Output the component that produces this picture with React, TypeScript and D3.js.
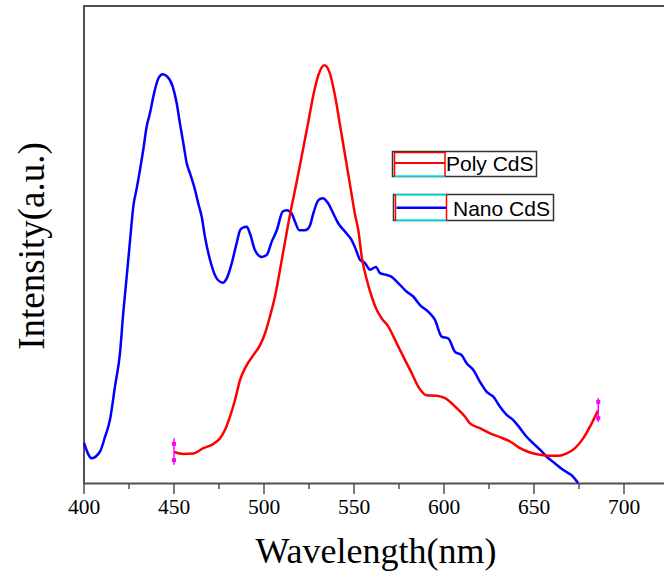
import React from "react";
import * as d3 from "d3";

const nanoWl = [400, 404.3, 408.9, 411.7, 414.4, 417.2, 420, 421.8, 423.7, 425.6, 427.4, 429.3, 431.1, 432.9, 434.8, 436.7, 438.5, 441.3, 443.7, 446.3, 449.3, 451.5, 453.3, 455.2, 457.1, 458.9, 461.7, 463.5, 465.4, 467.2, 470, 473.7, 477.1, 479.3, 482.1, 484.8, 486.7, 488, 490.4, 492.2, 495, 498.7, 501.5, 504.3, 507.1, 510.4, 512.6, 515.4, 517.2, 519.6, 522.8, 525.2, 527.4, 530.2, 532.6, 535.7, 538.5, 541.3, 545, 548.7, 551.5, 553.3, 556.1, 558.9, 562.2, 564.4, 568.2, 570.9, 574.6, 579.3, 582.9, 586.7, 591.3, 595, 598.7, 602.4, 606.1, 609.8, 612.6, 616.3, 620, 623.7, 627.4, 631.1, 634.8, 638.5, 642.2, 645.9, 649.6, 653.3, 657.1, 661.7, 666.3, 671.8, 674.5];
const nanoI = [8.4, 5.2, 6.6, 9.7, 13.2, 20.2, 27.3, 35.6, 43.2, 50.9, 58.0, 61.8, 65.6, 69.8, 74.7, 77.6, 81.0, 84.8, 85.7, 85.2, 83.1, 79.6, 75.4, 71.2, 67.0, 64.9, 61.4, 58.6, 55.8, 51.6, 46.8, 42.9, 42.0, 42.9, 46.1, 50.3, 53.0, 53.5, 53.7, 52.3, 48.8, 47.4, 47.8, 50.6, 53.0, 56.9, 57.2, 56.5, 54.8, 53.0, 53.0, 53.7, 56.5, 59.3, 59.7, 58.6, 56.5, 54.4, 52.7, 50.9, 48.5, 46.8, 46.1, 44.7, 45.3, 44.0, 43.6, 43.2, 41.9, 40.1, 39.1, 37.3, 35.9, 34.2, 30.7, 30.3, 27.5, 26.8, 25.1, 23.7, 21.2, 19.1, 18.1, 16.0, 14.3, 13.2, 11.5, 9.7, 8.3, 7.0, 5.5, 4.1, 2.7, 1.3, 0.0];

const polyWl = [450, 455.2, 460.7, 466.3, 470.9, 475.6, 478.3, 481.1, 483.9, 486.7, 490.4, 494.1, 497.8, 500.6, 503.3, 506.1, 507.9, 510.7, 514.4, 518.2, 521.8, 524.6, 527.4, 530.2, 533.5, 536.3, 539.4, 542.2, 545, 547.8, 550.6, 552.4, 554.3, 557.1, 559.8, 562.6, 565.4, 569.1, 572.8, 577.4, 582.1, 585.7, 590.4, 595.9, 600.6, 607.1, 611.7, 614.4, 620, 625.6, 631.1, 636.7, 642.2, 647.8, 653.3, 658.9, 663.5, 668.2, 672.8, 677.4, 681.1, 685.5];
const polyI = [6.5, 6.1, 6.2, 7.3, 8.0, 9.4, 11.1, 13.9, 17.4, 21.6, 24.7, 26.8, 28.9, 31.4, 34.9, 39.1, 42.6, 48.5, 56.2, 63.2, 70.2, 75.7, 81.3, 85.5, 87.6, 86.2, 81.3, 75.1, 68.8, 62.5, 56.2, 53.0, 47.4, 42.6, 39.1, 36.3, 34.5, 32.8, 30.0, 26.5, 23.0, 20.2, 18.4, 18.3, 17.8, 15.7, 13.9, 12.5, 11.5, 10.4, 9.6, 8.7, 7.3, 6.4, 5.9, 5.7, 5.7, 6.2, 7.3, 9.4, 11.8, 15.2];

// error-bar style markers at the end points of the Poly CdS curve
const markerWl = [450, 685.7];
const markerLo = [3.8, 12.8];
const markerCapLo = [4.8, 13.6];
const markerCapHi = [8.2, 17.0];
const markerHi = [9.4, 17.8];

const xTicks = [400, 450, 500, 550, 600, 650, 700];
const xMinorTicks = [425, 475, 525, 575, 625, 675, 725];

const legendLabels = ["Poly CdS", "Nano CdS"];

const W = 664;
const H = 575;

export default function App() {
  const x = d3.scaleLinear().domain([400, 700]).range([84, 624]);
  const y = d3.scaleLinear().domain([0, 100]).range([483, 6]);

  const line = d3
    .line<[number, number]>()
    .x((d) => x(d[0]))
    .y((d) => y(d[1]))
    .curve(d3.curveMonotoneX);

  const nano = nanoWl.map((w, i) => [w, nanoI[i]] as [number, number]);
  const poly = polyWl.map((w, i) => [w, polyI[i]] as [number, number]);

  const serif = "'Liberation Serif', 'Times New Roman', serif";
  const sans = "'Liberation Sans', Arial, sans-serif";
  const frame = "#505050";

  return (
    <svg
      width={W}
      height={H}
      style={{ position: "absolute", left: 0, top: 0, background: "#fff" }}
    >
      <rect x={0} y={0} width={W} height={H} fill="#fff" />
      {/* frame */}
      <line x1={84} x2={84} y1={5} y2={484} stroke={frame} strokeWidth={2} />
      <line x1={83} x2={W} y1={6} y2={6} stroke={frame} strokeWidth={2} />
      <line x1={83} x2={W} y1={483.5} y2={483.5} stroke={frame} strokeWidth={2} />

      {/* ticks */}
      {xTicks.map((t) => (
        <g key={"t" + t}>
          <line x1={x(t)} x2={x(t)} y1={483} y2={494} stroke={frame} strokeWidth={1.5} />
          <text
            x={x(t)}
            y={514}
            textAnchor="middle"
            fontFamily={serif}
            fontSize={21.5}
            fill="#000"
          >
            {t}
          </text>
        </g>
      ))}
      {xMinorTicks.map((t) => (
        <line key={"m" + t} x1={x(t)} x2={x(t)} y1={483} y2={489} stroke={frame} strokeWidth={1.5} />
      ))}

      {/* axis titles */}
      <text
        x={376}
        y={563}
        textAnchor="middle"
        fontFamily={serif}
        fontSize={36}
        fill="#000"
      >
        Wavelength(nm)
      </text>
      <text
        transform="translate(44,246) rotate(-90)"
        textAnchor="middle"
        fontFamily={serif}
        fontSize={37}
        fill="#000"
      >
        Intensity(a.u.)
      </text>

      {/* curves */}
      <path d={line(nano) || ""} fill="none" stroke="#0000ff" strokeWidth={2.5} />
      <path d={line(poly) || ""} fill="none" stroke="#ff0000" strokeWidth={2.5} />

      {/* magenta markers */}
      {markerWl.map((w, i) => (
        <g key={"mk" + i} stroke="#ff00ff" fill="#ff00ff">
          <line x1={x(w)} x2={x(w)} y1={y(markerLo[i])} y2={y(markerHi[i])} strokeWidth={1.5} />
          <rect x={x(w) - 2} y={y(markerCapLo[i]) - 2} width={4} height={4} strokeWidth={0} />
          <rect x={x(w) - 2} y={y(markerCapHi[i]) - 2} width={4} height={4} strokeWidth={0} />
        </g>
      ))}

      {/* legend: Poly CdS */}
      <g>
        <rect x={392.5} y={151.5} width={144} height={25} fill="#fff" stroke="#333" strokeWidth={1.5} />
        <line x1={394.5} x2={445} y1={176} y2={176} stroke="#00ffff" strokeWidth={1.5} />
        <polyline points="394.5,176 394.5,152.5 445,152.5 445,176" fill="none" stroke="#ff0000" strokeWidth={1.5} />
        <line x1={394.5} x2={445} y1={163} y2={163} stroke="#ff0000" strokeWidth={2} />
        <text x={446} y={170.5} fontFamily={sans} fontSize={21} fill="#000">
          {legendLabels[0]}
        </text>
      </g>
      {/* legend: Nano CdS */}
      <g>
        <rect x={393.5} y={194.5} width={160} height={26} fill="#fff" stroke="#333" strokeWidth={1.5} />
        <line x1={395.5} x2={446.5} y1={195} y2={195} stroke="#00ffff" strokeWidth={1.5} />
        <line x1={395.5} x2={446.5} y1={220} y2={220} stroke="#00ffff" strokeWidth={1.5} />
        <line x1={395.5} x2={395.5} y1={195} y2={220.5} stroke="#ff0000" strokeWidth={1.5} />
        <line x1={446.5} x2={446.5} y1={195} y2={220.5} stroke="#ff0000" strokeWidth={1.5} />
        <line x1={396.5} x2={446} y1={207.7} y2={207.7} stroke="#0000ff" strokeWidth={2.5} />
        <text x={453} y={215.5} fontFamily={sans} fontSize={21} fill="#000">
          {legendLabels[1]}
        </text>
      </g>
    </svg>
  );
}
